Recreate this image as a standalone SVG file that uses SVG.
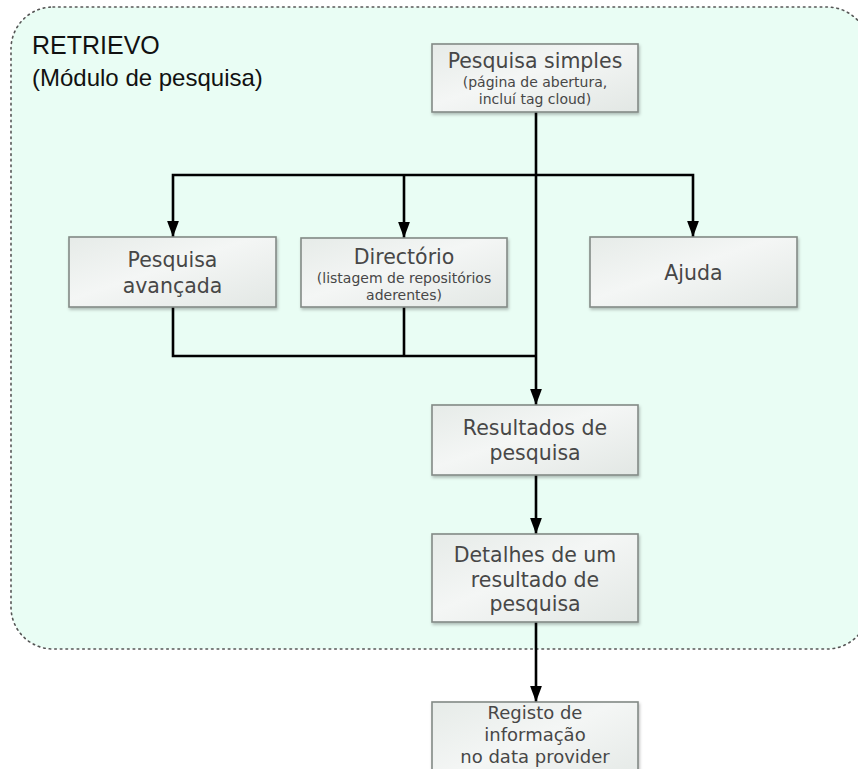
<svg xmlns="http://www.w3.org/2000/svg" width="858" height="769" viewBox="0 0 858 769">
<defs>
<linearGradient id="boxg" x1="0" y1="0" x2="1" y2="1">
<stop offset="0" stop-color="#e6ebe8"/>
<stop offset="0.45" stop-color="#f4f6f5"/>
<stop offset="1" stop-color="#e2e7e4"/>
</linearGradient>
<filter id="sh" x="-10%" y="-10%" width="125%" height="130%">
<feDropShadow dx="1" dy="2" stdDeviation="1.5" flood-color="#000" flood-opacity="0.25"/>
</filter>
<marker id="arr" markerUnits="userSpaceOnUse" markerWidth="16" markerHeight="20" refX="19" refY="7" orient="auto" viewBox="0 0 19 14">
<path d="M0,0 L19,7 L0,14 Z" fill="#000"/>
</marker>
</defs>
<style>
.box{fill:url(#boxg);stroke:#838a86;stroke-width:1.6;filter:url(#sh)}
.t{font-family:"DejaVu Sans",Verdana,sans-serif;fill:#474747;text-anchor:middle}
.big{font-size:20.5px}
.small{font-size:14px}
.reg{font-size:18px}
.c{fill:none;stroke:#000;stroke-width:2.6}
.ca{fill:none;stroke:#000;stroke-width:2.6;marker-end:url(#arr)}
.title{font-family:"Liberation Sans",Arial,sans-serif;fill:#111}
</style>
<g id="container">
<rect x="11" y="7" width="858" height="642" rx="42" ry="42" fill="#e9fdf4" stroke="#555" stroke-width="1.6" stroke-dasharray="1.6 4" stroke-linecap="round"/>
<text class="title" x="32" y="54" font-size="25">RETRIEVO</text>
<text class="title" x="32" y="86" font-size="24">(Módulo de pesquisa)</text>
</g>
<g id="connectors">
<path class="c" d="M536,112 V175"/>
<path class="ca" d="M536,175 H173 V237"/>
<path class="ca" d="M404,175 V238"/>
<path class="ca" d="M536,175 H693 V237"/>
<path class="c" d="M173,307 V356 H536"/>
<path class="c" d="M404,307 V356"/>
<path class="ca" d="M536,175 V405" stroke-width="3"/>
<path class="ca" d="M536,475 V534"/>
<path class="ca" d="M536,622 V702"/>
</g>
<g id="pesquisa-simples">
<rect class="box" x="432" y="44" width="206" height="68"/>
<text class="t big" x="535" y="68">Pesquisa simples</text>
<text class="t small" x="535" y="87">(página de abertura,</text>
<text class="t small" x="535" y="104">incluí tag cloud)</text>
</g>
<g id="pesquisa-avancada">
<rect class="box" x="69" y="237" width="207" height="70"/>
<text class="t big" x="172.5" y="267">Pesquisa</text>
<text class="t big" x="172.5" y="293">avançada</text>
</g>
<g id="directorio">
<rect class="box" x="301" y="238" width="206" height="69"/>
<text class="t big" x="404" y="264">Directório</text>
<text class="t small" x="404" y="283">(listagem de repositórios</text>
<text class="t small" x="404" y="300">aderentes)</text>
</g>
<g id="ajuda">
<rect class="box" x="590" y="237" width="207" height="70"/>
<text class="t big" x="693.5" y="280">Ajuda</text>
</g>
<g id="resultados">
<rect class="box" x="432" y="405" width="206" height="70"/>
<text class="t big" x="535" y="435">Resultados de</text>
<text class="t big" x="535" y="460">pesquisa</text>
</g>
<g id="detalhes">
<rect class="box" x="432" y="534" width="206" height="88"/>
<text class="t big" x="535" y="562">Detalhes de um</text>
<text class="t big" x="535" y="587">resultado de</text>
<text class="t big" x="535" y="611">pesquisa</text>
</g>
<g id="registo">
<rect class="box" x="432" y="702" width="206" height="90"/>
<text class="t reg" x="535" y="719">Registo de</text>
<text class="t reg" x="535" y="741">informação</text>
<text class="t reg" x="535" y="763">no data provider</text>
</g>
</svg>
